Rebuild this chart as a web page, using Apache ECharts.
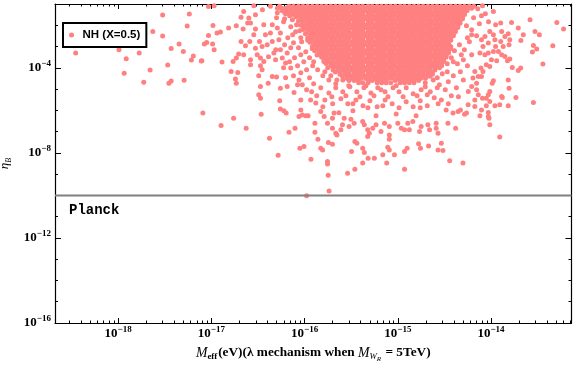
<!DOCTYPE html>
<html><head><meta charset="utf-8">
<script src="https://cdn.jsdelivr.net/npm/echarts@6/dist/echarts.min.js"></script>
<style>html,body{margin:0;padding:0;background:#fff}#c{width:576px;height:367px}</style>
</head><body><div id="c"></div>
<script>
// ---- axis ranges and ticks ----
const xMin = 2.1e-19, xMax = 7.3e-14;
const yMin = 1e-16, yMax = 1e-1;
const xMajorTicks = [1e-18, 1e-17, 1e-16, 1e-15, 1e-14];
const xTickLabels = ['\u221218', '\u221217', '\u221216', '\u221215', '\u221214'];
const xMinorTicks = [3e-19,4e-19,5e-19,6e-19,7e-19,8e-19,9e-19,
  2e-18,3e-18,4e-18,5e-18,6e-18,7e-18,8e-18,9e-18,
  2e-17,3e-17,4e-17,5e-17,6e-17,7e-17,8e-17,9e-17,
  2e-16,3e-16,4e-16,5e-16,6e-16,7e-16,8e-16,9e-16,
  2e-15,3e-15,4e-15,5e-15,6e-15,7e-15,8e-15,9e-15,
  2e-14,3e-14,4e-14,5e-14,6e-14,7e-14];
const yMajorTicks = [1e-16, 1e-12, 1e-8, 1e-4];
const yTickLabels = ['\u221216', '\u221212', '\u22128', '\u22124'];
const yMinorTicks = [1e-16,1e-15,1e-14,1e-13,1e-12,1e-11,1e-10,1e-9,1e-8,1e-7,1e-6,1e-5,1e-4,1e-3,1e-2,1e-1];
const planckEta = 1e-10;
const planckMeff = [2.1e-19, 7.3e-14];
const seriesName = 'NH (X=0.5)';

// ---- dense core of the point cloud: one eta value per row, with the M_eff values in that row ----
const coreEta = [7.9e-2, 6.3e-2, 5.0e-2, 4.0e-2, 3.2e-2, 2.5e-2, 2.0e-2, 1.58e-2, 1.26e-2, 1.0e-2,
  7.9e-3, 6.3e-3, 5.0e-3, 4.0e-3, 3.2e-3, 2.5e-3, 2.0e-3, 1.58e-3, 1.26e-3, 1.0e-3,
  7.9e-4, 6.3e-4, 5.0e-4, 4.0e-4, 3.2e-4, 2.5e-4, 2.0e-4, 1.58e-4, 1.26e-4, 1.0e-4,
  7.9e-5, 6.3e-5, 5.0e-5, 4.0e-5, 3.2e-5, 2.5e-5, 2.0e-5];
const coreMeff = [
 [4.3e-17,5.4e-17,6.8e-17,7.6e-17,8.6e-17,9.6e-17,1.08e-16,1.21e-16,1.36e-16,1.52e-16,1.7e-16,1.91e-16,2.14e-16,2.4e-16,2.7e-16,3.0e-16,3.4e-16,3.8e-16,4.2e-16,4.8e-16,5.3e-16,6.0e-16,6.7e-16,7.5e-16,8.4e-16,9.4e-16,1.06e-15,1.18e-15,1.33e-15,1.49e-15,1.67e-15,1.87e-15,2.1e-15,2.35e-15,2.63e-15,2.95e-15,3.3e-15,3.7e-15,4.15e-15,4.65e-15,5.2e-15,5.85e-15,6.55e-15],
 [5.1e-17,5.7e-17,6.4e-17,7.2e-17,8.1e-17,9.1e-17,1.02e-16,1.14e-16,1.28e-16,1.44e-16,1.61e-16,1.8e-16,2.02e-16,2.27e-16,2.55e-16,2.85e-16,3.2e-16,3.6e-16,4.0e-16,4.5e-16,5.05e-16,5.65e-16,6.35e-16,7.1e-16,8.0e-16,8.9e-16,1.0e-15,1.12e-15,1.26e-15,1.41e-15,1.58e-15,1.77e-15,1.98e-15,2.22e-15,2.5e-15,2.8e-15,3.1e-15,3.5e-15,3.95e-15,4.4e-15,4.95e-15,5.55e-15,6.2e-15],
 [5.7e-17,6.4e-17,7.2e-17,8.1e-17,9.1e-17,1.02e-16,1.14e-16,1.28e-16,1.44e-16,1.61e-16,1.8e-16,2.02e-16,2.27e-16,2.55e-16,2.85e-16,3.2e-16,3.6e-16,4.0e-16,4.5e-16,5.05e-16,5.65e-16,6.35e-16,7.1e-16,8.0e-16,8.9e-16,1.0e-15,1.12e-15,1.26e-15,1.41e-15,1.58e-15,1.77e-15,1.98e-15,2.22e-15,2.5e-15,2.8e-15,3.1e-15,3.5e-15,3.95e-15,4.4e-15,4.95e-15,5.55e-15],
 [6.1e-17,6.8e-17,7.6e-17,8.6e-17,9.6e-17,1.08e-16,1.21e-16,1.36e-16,1.52e-16,1.7e-16,1.91e-16,2.14e-16,2.4e-16,2.7e-16,3.0e-16,3.4e-16,3.8e-16,4.2e-16,4.8e-16,5.3e-16,6.0e-16,6.7e-16,7.5e-16,8.4e-16,9.4e-16,1.06e-15,1.18e-15,1.33e-15,1.49e-15,1.67e-15,1.87e-15,2.1e-15,2.35e-15,2.63e-15,2.95e-15,3.3e-15,3.7e-15,4.15e-15,4.65e-15,5.2e-15],
 [7.6e-17,8.6e-17,9.6e-17,1.08e-16,1.21e-16,1.36e-16,1.52e-16,1.7e-16,1.91e-16,2.14e-16,2.4e-16,2.7e-16,3.0e-16,3.4e-16,3.8e-16,4.2e-16,4.8e-16,5.3e-16,6.0e-16,6.7e-16,7.5e-16,8.4e-16,9.4e-16,1.06e-15,1.18e-15,1.33e-15,1.49e-15,1.67e-15,1.87e-15,2.1e-15,2.35e-15,2.63e-15,2.95e-15,3.3e-15,3.7e-15,4.15e-15,4.65e-15,5.2e-15],
 [8.1e-17,9.1e-17,1.02e-16,1.14e-16,1.28e-16,1.44e-16,1.61e-16,1.8e-16,2.02e-16,2.27e-16,2.55e-16,2.85e-16,3.2e-16,3.6e-16,4.0e-16,4.5e-16,5.05e-16,5.65e-16,6.35e-16,7.1e-16,8.0e-16,8.9e-16,1.0e-15,1.12e-15,1.26e-15,1.41e-15,1.58e-15,1.77e-15,1.98e-15,2.22e-15,2.5e-15,2.8e-15,3.1e-15,3.5e-15,3.95e-15,4.4e-15,4.95e-15],
 [9.1e-17,1.02e-16,1.14e-16,1.28e-16,1.44e-16,1.61e-16,1.8e-16,2.02e-16,2.27e-16,2.55e-16,2.85e-16,3.2e-16,3.6e-16,4.0e-16,4.5e-16,5.05e-16,5.65e-16,6.35e-16,7.1e-16,8.0e-16,8.9e-16,1.0e-15,1.12e-15,1.26e-15,1.41e-15,1.58e-15,1.77e-15,1.98e-15,2.22e-15,2.5e-15,2.8e-15,3.1e-15,3.5e-15,3.95e-15,4.4e-15,4.95e-15],
 [8.6e-17,9.6e-17,1.08e-16,1.21e-16,1.36e-16,1.52e-16,1.7e-16,1.91e-16,2.14e-16,2.4e-16,2.7e-16,3.0e-16,3.4e-16,3.8e-16,4.2e-16,4.8e-16,5.3e-16,6.0e-16,6.7e-16,7.5e-16,8.4e-16,9.4e-16,1.06e-15,1.18e-15,1.33e-15,1.49e-15,1.67e-15,1.87e-15,2.1e-15,2.35e-15,2.63e-15,2.95e-15,3.3e-15,3.7e-15,4.15e-15,4.65e-15],
 [9.6e-17,1.08e-16,1.21e-16,1.36e-16,1.52e-16,1.7e-16,1.91e-16,2.14e-16,2.4e-16,2.7e-16,3.0e-16,3.4e-16,3.8e-16,4.2e-16,4.8e-16,5.3e-16,6.0e-16,6.7e-16,7.5e-16,8.4e-16,9.4e-16,1.06e-15,1.18e-15,1.33e-15,1.49e-15,1.67e-15,1.87e-15,2.1e-15,2.35e-15,2.63e-15,2.95e-15,3.3e-15,3.7e-15,4.15e-15,4.65e-15],
 [9.1e-17,1.02e-16,1.14e-16,1.28e-16,1.44e-16,1.61e-16,1.8e-16,2.02e-16,2.27e-16,2.55e-16,2.85e-16,3.2e-16,3.6e-16,4.0e-16,4.5e-16,5.05e-16,5.65e-16,6.35e-16,7.1e-16,8.0e-16,8.9e-16,1.0e-15,1.12e-15,1.26e-15,1.41e-15,1.58e-15,1.77e-15,1.98e-15,2.22e-15,2.5e-15,2.8e-15,3.1e-15,3.5e-15,3.95e-15,4.4e-15],
 [1.02e-16,1.14e-16,1.28e-16,1.44e-16,1.61e-16,1.8e-16,2.02e-16,2.27e-16,2.55e-16,2.85e-16,3.2e-16,3.6e-16,4.0e-16,4.5e-16,5.05e-16,5.65e-16,6.35e-16,7.1e-16,8.0e-16,8.9e-16,1.0e-15,1.12e-15,1.26e-15,1.41e-15,1.58e-15,1.77e-15,1.98e-15,2.22e-15,2.5e-15,2.8e-15,3.1e-15,3.5e-15,3.95e-15,4.4e-15],
 [9.6e-17,1.08e-16,1.21e-16,1.36e-16,1.52e-16,1.7e-16,1.91e-16,2.14e-16,2.4e-16,2.7e-16,3.0e-16,3.4e-16,3.8e-16,4.2e-16,4.8e-16,5.3e-16,6.0e-16,6.7e-16,7.5e-16,8.4e-16,9.4e-16,1.06e-15,1.18e-15,1.33e-15,1.49e-15,1.67e-15,1.87e-15,2.1e-15,2.35e-15,2.63e-15,2.95e-15,3.3e-15,3.7e-15,4.15e-15],
 [1.08e-16,1.21e-16,1.36e-16,1.52e-16,1.7e-16,1.91e-16,2.14e-16,2.4e-16,2.7e-16,3.0e-16,3.4e-16,3.8e-16,4.2e-16,4.8e-16,5.3e-16,6.0e-16,6.7e-16,7.5e-16,8.4e-16,9.4e-16,1.06e-15,1.18e-15,1.33e-15,1.49e-15,1.67e-15,1.87e-15,2.1e-15,2.35e-15,2.63e-15,2.95e-15,3.3e-15,3.7e-15,4.15e-15],
 [1.02e-16,1.14e-16,1.28e-16,1.44e-16,1.61e-16,1.8e-16,2.02e-16,2.27e-16,2.55e-16,2.85e-16,3.2e-16,3.6e-16,4.0e-16,4.5e-16,5.05e-16,5.65e-16,6.35e-16,7.1e-16,8.0e-16,8.9e-16,1.0e-15,1.12e-15,1.26e-15,1.41e-15,1.58e-15,1.77e-15,1.98e-15,2.22e-15,2.5e-15,2.8e-15,3.1e-15,3.5e-15,3.95e-15],
 [1.14e-16,1.28e-16,1.44e-16,1.61e-16,1.8e-16,2.02e-16,2.27e-16,2.55e-16,2.85e-16,3.2e-16,3.6e-16,4.0e-16,4.5e-16,5.05e-16,5.65e-16,6.35e-16,7.1e-16,8.0e-16,8.9e-16,1.0e-15,1.12e-15,1.26e-15,1.41e-15,1.58e-15,1.77e-15,1.98e-15,2.22e-15,2.5e-15,2.8e-15,3.1e-15,3.5e-15,3.95e-15],
 [1.08e-16,1.21e-16,1.36e-16,1.52e-16,1.7e-16,1.91e-16,2.14e-16,2.4e-16,2.7e-16,3.0e-16,3.4e-16,3.8e-16,4.2e-16,4.8e-16,5.3e-16,6.0e-16,6.7e-16,7.5e-16,8.4e-16,9.4e-16,1.06e-15,1.18e-15,1.33e-15,1.49e-15,1.67e-15,1.87e-15,2.1e-15,2.35e-15,2.63e-15,2.95e-15,3.3e-15,3.7e-15],
 [1.08e-16,1.21e-16,1.36e-16,1.52e-16,1.7e-16,1.91e-16,2.14e-16,2.4e-16,2.7e-16,3.0e-16,3.4e-16,3.8e-16,4.2e-16,4.8e-16,5.3e-16,6.0e-16,6.7e-16,7.5e-16,8.4e-16,9.4e-16,1.06e-15,1.18e-15,1.33e-15,1.49e-15,1.67e-15,1.87e-15,2.1e-15,2.35e-15,2.63e-15,2.95e-15,3.3e-15,3.7e-15],
 [1.14e-16,1.28e-16,1.44e-16,1.61e-16,1.8e-16,2.02e-16,2.27e-16,2.55e-16,2.85e-16,3.2e-16,3.6e-16,4.0e-16,4.5e-16,5.05e-16,5.65e-16,6.35e-16,7.1e-16,8.0e-16,8.9e-16,1.0e-15,1.12e-15,1.26e-15,1.41e-15,1.58e-15,1.77e-15,1.98e-15,2.22e-15,2.5e-15,2.8e-15,3.1e-15,3.5e-15],
 [1.28e-16,1.44e-16,1.61e-16,1.8e-16,2.02e-16,2.27e-16,2.55e-16,2.85e-16,3.2e-16,3.6e-16,4.0e-16,4.5e-16,5.05e-16,5.65e-16,6.35e-16,7.1e-16,8.0e-16,8.9e-16,1.0e-15,1.12e-15,1.26e-15,1.41e-15,1.58e-15,1.77e-15,1.98e-15,2.22e-15,2.5e-15,2.8e-15,3.1e-15,3.5e-15],
 [1.21e-16,1.36e-16,1.52e-16,1.7e-16,1.91e-16,2.14e-16,2.4e-16,2.7e-16,3.0e-16,3.4e-16,3.8e-16,4.2e-16,4.8e-16,5.3e-16,6.0e-16,6.7e-16,7.5e-16,8.4e-16,9.4e-16,1.06e-15,1.18e-15,1.33e-15,1.49e-15,1.67e-15,1.87e-15,2.1e-15,2.35e-15,2.63e-15,2.95e-15,3.3e-15,3.7e-15],
 [1.21e-16,1.36e-16,1.52e-16,1.7e-16,1.91e-16,2.14e-16,2.4e-16,2.7e-16,3.0e-16,3.4e-16,3.8e-16,4.2e-16,4.8e-16,5.3e-16,6.0e-16,6.7e-16,7.5e-16,8.4e-16,9.4e-16,1.06e-15,1.18e-15,1.33e-15,1.49e-15,1.67e-15,1.87e-15,2.1e-15,2.35e-15,2.63e-15,2.95e-15,3.3e-15,3.7e-15],
 [1.28e-16,1.44e-16,1.61e-16,1.8e-16,2.02e-16,2.27e-16,2.55e-16,2.85e-16,3.2e-16,3.6e-16,4.0e-16,4.5e-16,5.05e-16,5.65e-16,6.35e-16,7.1e-16,8.0e-16,8.9e-16,1.0e-15,1.12e-15,1.26e-15,1.41e-15,1.58e-15,1.77e-15,1.98e-15,2.22e-15,2.5e-15,2.8e-15,3.1e-15,3.5e-15],
 [1.44e-16,1.61e-16,1.8e-16,2.02e-16,2.27e-16,2.55e-16,2.85e-16,3.2e-16,3.6e-16,4.0e-16,4.5e-16,5.05e-16,5.65e-16,6.35e-16,7.1e-16,8.0e-16,8.9e-16,1.0e-15,1.12e-15,1.26e-15,1.41e-15,1.58e-15,1.77e-15,1.98e-15,2.22e-15,2.5e-15,2.8e-15,3.1e-15,3.5e-15],
 [1.36e-16,1.52e-16,1.7e-16,1.91e-16,2.14e-16,2.4e-16,2.7e-16,3.0e-16,3.4e-16,3.8e-16,4.2e-16,4.8e-16,5.3e-16,6.0e-16,6.7e-16,7.5e-16,8.4e-16,9.4e-16,1.06e-15,1.18e-15,1.33e-15,1.49e-15,1.67e-15,1.87e-15,2.1e-15,2.35e-15,2.63e-15,2.95e-15,3.3e-15],
 [1.52e-16,1.7e-16,1.91e-16,2.14e-16,2.4e-16,2.7e-16,3.0e-16,3.4e-16,3.8e-16,4.2e-16,4.8e-16,5.3e-16,6.0e-16,6.7e-16,7.5e-16,8.4e-16,9.4e-16,1.06e-15,1.18e-15,1.33e-15,1.49e-15,1.67e-15,1.87e-15,2.1e-15,2.35e-15,2.63e-15,2.95e-15,3.3e-15],
 [1.61e-16,1.8e-16,2.02e-16,2.27e-16,2.55e-16,2.85e-16,3.2e-16,3.6e-16,4.0e-16,4.5e-16,5.05e-16,5.65e-16,6.35e-16,7.1e-16,8.0e-16,8.9e-16,1.0e-15,1.12e-15,1.26e-15,1.41e-15,1.58e-15,1.77e-15,1.98e-15,2.22e-15,2.5e-15,2.8e-15,3.1e-15],
 [1.61e-16,1.8e-16,2.02e-16,2.27e-16,2.55e-16,2.85e-16,3.2e-16,3.6e-16,4.0e-16,4.5e-16,5.05e-16,5.65e-16,6.35e-16,7.1e-16,8.0e-16,8.9e-16,1.0e-15,1.12e-15,1.26e-15,1.41e-15,1.58e-15,1.77e-15,1.98e-15,2.22e-15,2.5e-15,2.8e-15,3.1e-15],
 [1.7e-16,1.91e-16,2.14e-16,2.4e-16,2.7e-16,3.0e-16,3.4e-16,3.8e-16,4.2e-16,4.8e-16,5.3e-16,6.0e-16,6.7e-16,7.5e-16,8.4e-16,9.4e-16,1.06e-15,1.18e-15,1.33e-15,1.49e-15,1.67e-15,1.87e-15,2.1e-15,2.35e-15,2.63e-15,2.95e-15],
 [1.91e-16,2.14e-16,2.4e-16,2.7e-16,3.0e-16,3.4e-16,3.8e-16,4.2e-16,4.8e-16,5.3e-16,6.0e-16,6.7e-16,7.5e-16,8.4e-16,9.4e-16,1.06e-15,1.18e-15,1.33e-15,1.49e-15,1.67e-15,1.87e-15,2.1e-15,2.35e-15,2.63e-15,2.95e-15],
 [2.02e-16,2.27e-16,2.55e-16,2.85e-16,3.2e-16,3.6e-16,4.0e-16,4.5e-16,5.05e-16,5.65e-16,6.35e-16,7.1e-16,8.0e-16,8.9e-16,1.0e-15,1.12e-15,1.26e-15,1.41e-15,1.58e-15,1.77e-15,1.98e-15,2.22e-15,2.5e-15,2.8e-15],
 [2.02e-16,2.27e-16,2.55e-16,2.85e-16,3.2e-16,3.6e-16,4.0e-16,4.5e-16,5.05e-16,5.65e-16,6.35e-16,7.1e-16,8.0e-16,8.9e-16,1.0e-15,1.12e-15,1.26e-15,1.41e-15,1.58e-15,1.77e-15,1.98e-15,2.22e-15,2.5e-15],
 [2.14e-16,2.4e-16,2.7e-16,3.0e-16,3.4e-16,3.8e-16,4.2e-16,4.8e-16,5.3e-16,6.0e-16,6.7e-16,7.5e-16,8.4e-16,9.4e-16,1.06e-15,1.18e-15,1.33e-15,1.49e-15,1.67e-15,1.87e-15,2.1e-15,2.35e-15],
 [2.4e-16,2.7e-16,3.0e-16,3.4e-16,3.8e-16,4.2e-16,4.8e-16,5.3e-16,6.0e-16,6.7e-16,7.5e-16,8.4e-16,9.4e-16,1.06e-15,1.18e-15,1.33e-15,1.49e-15,1.67e-15,1.87e-15,2.1e-15,2.35e-15],
 [2.55e-16,2.85e-16,3.2e-16,3.6e-16,4.0e-16,4.5e-16,5.05e-16,5.65e-16,6.35e-16,7.1e-16,8.0e-16,8.9e-16,1.0e-15,1.12e-15,1.26e-15,1.41e-15,1.58e-15,1.77e-15,1.98e-15,2.22e-15],
 [2.85e-16,3.2e-16,3.6e-16,4.0e-16,4.5e-16,5.05e-16,5.65e-16,6.35e-16,7.1e-16,8.0e-16,8.9e-16,1.0e-15,1.12e-15,1.26e-15,1.41e-15,1.58e-15,1.77e-15,1.98e-15],
 [3.0e-16,3.4e-16,3.8e-16,4.8e-16,5.3e-16,6.0e-16,6.7e-16,7.5e-16,9.4e-16,1.06e-15,1.18e-15,1.33e-15,1.49e-15,1.67e-15],
 [3.8e-16,4.2e-16,4.8e-16,6.0e-16,6.7e-16,7.5e-16,8.4e-16,1.06e-15,1.18e-15,1.33e-15,1.49e-15]
];

// ---- scattered points around the core: [M_eff (eV), eta_B] ----
const scatterPairs = [
 [3.0e-18,3.0e-2],[5.8e-18,3.4e-2],[5.5e-18,9.2e-3],[2.35e-18,5.1e-3],[3.0e-18,3.1e-3],[4.5e-18,1.3e-3],[8.4e-18,1.3e-3],[3.7e-18,8.1e-4],
 [5.0e-18,5.8e-4],[3.5e-19,4.9e-4],[1.68e-18,4.9e-4],[6.4e-18,3.6e-4],[1.22e-18,2.7e-4],[6.1e-18,2.3e-4],[7.8e-18,2.07e-4],[3.4e-18,1.34e-4],
 [2.2e-18,7.8e-5],[1.16e-18,5.6e-5],[1.88e-18,2.1e-5],[3.7e-18,2.4e-5],[3.5e-18,1.9e-5],[5.1e-18,2.6e-5],[8.1e-18,7.4e-7],[1.02e-18,7.0e-4],
 [9.3e-18,7.7e-2],[1.07e-17,8.3e-2],[2.85e-17,8.3e-2],[2.22e-17,4.5e-2],[2.08e-17,2.4e-2],[2.52e-17,2.2e-2],[2.97e-17,3.1e-2],[2.45e-17,1.27e-2],
 [2.63e-17,1.27e-2],[1.04e-17,9.8e-3],[1.85e-17,9.5e-3],[2.19e-17,6.6e-3],[2.97e-17,6.6e-3],[3.65e-17,1.05e-2],[1.25e-17,4.8e-3],[1.15e-17,4.3e-3],
 [9.3e-18,3.3e-3],[1.53e-17,7.4e-3],[2.85e-17,3.6e-3],[4.3e-17,4.3e-3],[4.5e-17,1.05e-2],[5.1e-17,7.4e-3],[5.5e-17,4.3e-3],[8.9e-18,1.55e-3],
 [1.03e-17,1.3e-3],[2.08e-17,1.73e-3],[2.58e-17,1.73e-3],[2.32e-17,1.08e-3],[3.28e-17,1.73e-3],[3.5e-17,1.0e-3],[4.5e-17,1.73e-3],[3.97e-17,1.21e-3],
 [1.07e-17,7.0e-4],[1.96e-17,4.4e-4],[2.97e-17,8.4e-4],[3.1e-17,4.1e-4],[4.68e-17,4.9e-4],[5.5e-17,7.0e-4],[2.22e-17,4.1e-4],[7.9e-18,2.13e-4],
 [1.3e-17,1.85e-4],[1.71e-17,1.98e-4],[1.85e-17,2.86e-4],[2.63e-17,2.38e-4],[3.36e-17,2.86e-4],[3.65e-17,1.98e-4],[4.88e-17,2.38e-4],[5.76e-17,2.86e-4],
 [6.5e-17,4.9e-4],[6.25e-17,1.66e-4],[7.1e-17,9.7e-5],[3.36e-17,1.24e-4],[2.63e-17,1.38e-4],[1.63e-17,6.7e-5],[1.92e-17,6.0e-5],[3.5e-17,8.1e-5],
 [4.5e-17,3.9e-5],[5.0e-17,3.65e-5],[1.81e-17,3.0e-5],[1.85e-17,1.9e-5],[3.22e-17,4.2e-5],[4.07e-17,1.9e-5],[5.5e-17,1.1e-5],[6.5e-17,1.32e-5],
 [7.7e-17,6.9e-6],[8.7e-17,2.7e-5],[8.4e-17,1.58e-5],[9.45e-17,1.58e-5],[1.05e-16,9.2e-6],[3.36e-17,1.32e-5],[3.22e-17,5.4e-6],[3.36e-17,3.75e-6],
 [5.4e-17,2.8e-6],[9.1e-17,3.1e-6],[1.16e-16,3.1e-6],[5.5e-17,1.14e-6],[6.0e-17,9.5e-7],[9.1e-17,1.05e-6],[8.7e-17,5.1e-7],[1.03e-16,5.5e-7],
 [1.32e-16,2.2e-6],[3.42e-17,6.6e-7],[1.73e-17,4.3e-7],[5.95e-17,1.46e-2],[7.1e-17,8.5e-3],[8.0e-17,4.9e-3],[6.6e-17,2.6e-3],[7.6e-17,1.5e-3],
 [8.6e-17,8.7e-4],[7.1e-17,8.7e-4],[6.1e-17,1.21e-3],[9.1e-17,4.1e-4],[7.8e-17,2.95e-4],[6.9e-17,1.92e-4],[8.4e-17,1.24e-4],[9.8e-17,1.92e-4],
 [1.05e-16,8.1e-5],[9.1e-17,5.8e-5],[7.6e-17,4.2e-5],[6.25e-17,3.4e-5],[1.13e-16,3.4e-5],[1.25e-16,1.77e-5],[5.3e-17,2.1e-3],[4.9e-17,7.0e-4],
 [5.95e-17,1.0e-4],[4.1e-17,3.3e-4],[3.8e-17,3.6e-3],[5.0e-17,2.25e-2],[6.25e-17,3.5e-2],[7.4e-17,1.8e-2],[9.1e-17,2.6e-3],[9.8e-17,7.6e-3],
 [6.35e-17,7.4e-7],[6.8e-17,9.4e-8],[7.9e-17,1.45e-7],[9.45e-17,6.1e-7],[1.09e-16,5.5e-7],[1.27e-17,1.93e-7],[2.36e-17,1.45e-7],[4.2e-17,4.9e-8],
 [5.2e-17,7.8e-9],[8.9e-17,1.66e-8],[9.85e-17,1.98e-8],[1.17e-16,5.0e-9],[1.76e-16,3.9e-9],[1.76e-16,3.0e-9],[1.79e-16,8.8e-10],[1.83e-16,1.63e-10],
 [1.05e-16,9.5e-11],[1.29e-16,2.5e-7],[1.29e-16,9.4e-8],[1.39e-16,4.4e-8],[1.49e-16,8.8e-7],[1.49e-16,1.66e-8],[1.56e-16,1.38e-8],[1.99e-16,1.45e-7],
 [2.07e-16,7.4e-7],[2.22e-16,7.0e-8],[1.99e-16,2.56e-8],[1.8e-16,3.05e-8],[1.62e-16,5.1e-7],[1.76e-16,2.5e-7],[1.99e-16,4.3e-7],[2.66e-16,4.3e-7],
 [2.55e-16,2.08e-7],[2.45e-16,1.21e-7],[2.16e-16,8.4e-8],[3.14e-16,3.85e-7],[3.0e-16,1.73e-7],[3.4e-16,2.5e-7],[4.2e-16,2.97e-7],[4.37e-16,2.08e-7],
 [4.75e-16,1.21e-7],[4.94e-16,8.4e-8],[5.38e-16,1.45e-7],[4.75e-16,5.85e-8],[5.84e-16,2.08e-7],[6.6e-16,1.0e-7],[7.2e-16,2.5e-7],[8.1e-16,1.73e-7],
 [8.1e-16,7.0e-8],[8.1e-16,4.4e-8],[1.0e-15,2.5e-7],[1.09e-15,1.45e-7],[1.18e-15,1.21e-7],[1.33e-15,1.21e-7],[1.28e-15,2.5e-7],[1.45e-15,2.97e-7],
 [1.71e-15,1.0e-7],[1.78e-15,1.73e-7],[2.1e-15,2.08e-7],[2.19e-15,1.21e-7],[2.58e-15,1.45e-7],[2.7e-15,8.4e-8],[2.58e-15,2.5e-7],[3.45e-15,2.5e-7],
 [4.17e-15,1.45e-7],[3.46e-16,3.4e-8],[3.64e-16,2.86e-8],[3.19e-16,1.15e-8],[4.2e-16,1.66e-8],[4.37e-16,1.03e-8],[7.8e-16,1.85e-8],[8.1e-16,1.38e-8],
 [1.18e-15,1.15e-8],[1.26e-15,1.66e-8],[9.2e-16,8.1e-9],[6.9e-16,8.1e-9],[5.6e-16,5.6e-9],[4.8e-16,5.6e-9],[4.2e-16,3.3e-9],[1.67e-15,2.65e-8],
 [1.75e-15,1.66e-8],[2.14e-15,2.13e-8],[2.7e-15,1.38e-8],[3.05e-15,1.28e-8],[2.93e-15,2.86e-8],[2.89e-16,1.1e-9],[3.46e-16,1.71e-9],[7.6e-16,3.3e-9],
 [1.18e-15,1.71e-9],[3.6e-15,4.3e-9],[5.0e-15,3.3e-9],[1.24e-14,5.5e-8],[6.7e-15,3.1e-6],[7.9e-15,1.05e-6],[8.9e-15,1.63e-6],[9.35e-15,5.1e-7],
 [9.7e-15,2.08e-7],[1.3e-14,4.5e-6],[5.68e-15,1.81e-6],[5.45e-15,7.4e-7],[4.43e-15,8.8e-7],[3.91e-15,7.4e-7],[3.3e-15,1.05e-6],[1.06e-14,4.5e-2],
 [1.27e-14,1.27e-2],[1.12e-14,1.05e-2],[1.66e-14,1.35e-2],[1.96e-14,7.4e-3],[2.62e-14,1.81e-2],[5.08e-14,1.35e-2],[6.0e-14,6.6e-3],[2.22e-14,3.6e-3],
 [2.09e-14,1.93e-3],[2.96e-14,5.1e-3],[3.3e-14,3.6e-3],[2.85e-14,1.12e-3],[3.09e-14,7.6e-4],[2.78e-14,5.5e-4],[4.6e-14,1.08e-3],[1.53e-14,4.0e-3],
 [1.59e-14,2.08e-3],[1.56e-14,1.21e-3],[1.35e-14,1.0e-3],[1.27e-14,1.73e-3],[1.12e-14,1.0e-3],[1.06e-14,5.85e-4],[1.2e-14,5.85e-4],[1.3e-14,4.1e-4],
 [1.01e-14,2.38e-4],[1.15e-14,2.13e-4],[1.5e-14,2.13e-4],[1.59e-14,2.56e-4],[1.41e-14,3.4e-4],[1.69e-14,1.03e-4],[1.96e-14,7.5e-5],[2.08e-14,9.7e-5],
 [3.6e-14,1.49e-4],[9.7e-15,1.15e-4],[8.9e-15,1.38e-4],[7.8e-15,9.7e-5],[8.2e-15,6.7e-5],[1.06e-14,2.45e-5],[1.03e-14,1.9e-5],[1.53e-14,2.7e-5],
 [1.56e-14,1.1e-5],[1.85e-14,4.0e-6],[1.32e-14,4.0e-6],[2.85e-14,2.33e-6],[9.7e-15,7.7e-6],[9.35e-15,5.4e-6],[8.9e-15,3.75e-6],[9.7e-15,2.6e-6],
 [1.1e-14,1.63e-6],[1.24e-14,1.81e-6],[1.53e-14,1.63e-6],[9.35e-15,7.9e-7],[9.5e-15,4.3e-7],[7.6e-15,5.5e-7],[6.7e-15,1.51e-6],[5.2e-15,6.6e-7],
 [4.7e-15,1.05e-6],[8.1e-15,3.75e-6],[7.3e-15,5.4e-6],[7.0e-15,9.2e-6],[6.2e-15,1.32e-5],[7.0e-15,1.9e-5],[5.7e-15,7.7e-6],[7.9e-15,3.9e-5],
 [7.3e-15,3.9e-5],[6.7e-15,6.7e-5],[6.4e-15,3.3e-5],[8.6e-15,3.0e-3],[9.7e-15,5.1e-3],[7.9e-15,2.08e-3],[8.2e-15,1.0e-3],[9.35e-15,1.45e-3],
 [1.1e-14,2.08e-3],[1.3e-14,5.1e-3],[1.41e-14,3.0e-3],[1.06e-14,3.6e-3],[9.35e-15,4.9e-4],[7.6e-15,4.9e-4],[8.6e-15,4.1e-4],[4.58e-15,1.21e-3],
 [5.18e-15,7.0e-4],[5.86e-15,1.67e-3],[6.2e-15,4.1e-4],[5.05e-15,2.38e-4],[4.36e-15,1.54e-4],[5.58e-15,1.24e-4],[4.69e-15,6.5e-5],[3.94e-15,4.2e-5],
 [3.48e-15,2.2e-5],[5.05e-15,2.7e-5],[4.25e-15,1.14e-5],[3.23e-15,9.2e-6],[3.75e-15,4.8e-6],[2.93e-15,3.1e-6],[4.47e-15,4.3e-6],[2.65e-15,1.14e-5],
 [2.23e-15,7.4e-6],[1.78e-15,9.2e-6],[1.46e-15,6.0e-6],[1.23e-15,1.14e-5],[1.03e-15,7.4e-6],[8.9e-16,1.14e-5],[7.3e-16,7.4e-6],[6.1e-16,1.14e-5],
 [5.15e-16,6.6e-6],[4.33e-16,1.14e-5],[3.64e-16,7.4e-6],[3.06e-16,1.28e-5],[2.57e-16,7.4e-6],[2.16e-16,1.14e-5],[1.82e-16,6.6e-6],[1.49e-16,1.14e-5],
 [1.35e-16,4.8e-6],[1.65e-16,3.1e-6],[2.0e-16,2.02e-6],[2.45e-16,3.5e-6],[2.91e-16,2.02e-6],[3.55e-16,3.1e-6],[4.23e-16,1.63e-6],[5.02e-16,2.8e-6],
 [6.0e-16,1.46e-6],[7.3e-16,3.1e-6],[8.7e-16,2.02e-6],[1.03e-15,1.31e-6],[1.23e-15,2.51e-6],[1.46e-15,1.46e-6],[1.74e-15,2.8e-6],[2.07e-15,1.63e-6],
 [2.46e-15,3.9e-6],[3.48e-15,2.02e-6],[1.57e-15,5.5e-7],[9.6e-16,6.8e-7],[5.84e-16,5.5e-7],[3.3e-16,9.5e-7],[2.33e-16,7.6e-7],[2.16e-16,1.77e-5],
 [2.57e-16,2.7e-5],[1.97e-15,1.97e-5],[2.4e-15,2.7e-5],[2.79e-15,1.58e-5],[1.82e-16,2.7e-5],[1.57e-16,4.2e-5],[1.38e-16,8.1e-5],[1.22e-16,1.24e-4],
 [3.0e-15,5.2e-5],[3.39e-15,1.54e-4],[3.75e-15,2.95e-4],[4.05e-15,6.3e-4],[7.2e-15,6.0e-2],[8.7e-15,3.5e-2],[6.5e-15,2.25e-2],[7.5e-15,1.18e-2],
 [6.2e-15,6.1e-3],[7.0e-15,3.2e-3],[5.58e-15,2.6e-3],[8.1e-15,8.3e-2],[9.4e-15,1.46e-2],[2.77e-16,4.8e-6],[3.92e-16,4.3e-6],[5.55e-16,4.8e-6],
 [7.85e-16,4.3e-6],[1.14e-15,4.3e-6],[1.61e-15,4.8e-6],[2.07e-15,5.4e-6],[1.96e-16,4.3e-6],[3.3e-16,2.02e-6],[4.78e-16,1.31e-6],[6.9e-16,1.63e-6],
 [1.74e-15,1.31e-6],[2.71e-15,2.02e-6],[1.57e-16,1.46e-6],[1.19e-16,7.4e-6],
 [3.53e-17,5.4e-2],[5.1e-17,3.9e-2],[6.1e-17,2.02e-2],[6.9e-17,2.8e-2],[8.2e-17,1.05e-2],[8.85e-17,5.5e-3],[7.45e-17,3.6e-3],[9.3e-17,1.67e-3],
 [1.03e-16,5.66e-4],[1.13e-16,2.95e-4],[1.25e-16,1.92e-4],[1.65e-16,6.5e-5],[1.77e-16,1.0e-4],[1.91e-16,4.2e-5],[2.22e-16,2.7e-5],[2.98e-16,1.42e-5],
 [3.94e-15,1.92e-4],[3.39e-15,6.5e-5],[2.65e-15,3.4e-5],[1.97e-15,1.28e-5],[4.8e-15,4.1e-4],[6.2e-15,3.6e-3],[5.45e-15,9.5e-3],[7.9e-15,2.8e-2],
 [4.55e-16,1.42e-5],[9.6e-16,1.42e-5],[6.6e-16,9.2e-6]
];

// ---- build the point table from the arrays above ----
const points = [];
coreEta.forEach(function (eta, i) { coreMeff[i].forEach(function (m) { points.push([m, eta]); }); });
scatterPairs.forEach(function (p) { points.push([p[0], p[1]]); });
const planckLine = planckMeff.map(function (m) { return [m, planckEta]; });

// ---- styling ----
const SERIF = 'Liberation Serif';
const tickRich = {
  b: {fontFamily: SERIF, fontSize: 13, fontWeight: 'bold', color: '#000', lineHeight: 18},
  s: {fontFamily: SERIF, fontSize: 9, fontWeight: 'bold', color: '#000', verticalAlign: 'top'}
};
function expFormatter(ticks, labels) {
  return function (v) {
    for (let i = 0; i < ticks.length; i++) {
      if (Math.abs(v / ticks[i] - 1) < 1e-3) return '{b|10}{s|' + labels[i] + '}';
    }
    return '';
  };
}
const black = {color: '#000', width: 1.2};
function xAxisDef(pos, ticks, len, withLabels, withLine) {
  return {
    type: 'log', logBase: 10, min: xMin, max: xMax, position: pos, gridIndex: 0,
    axisLine: {show: withLine, onZero: false, lineStyle: black},
    axisTick: {show: true, inside: true, length: len, customValues: ticks, lineStyle: {color: '#000', width: 1}},
    minorTick: {show: false}, splitLine: {show: false},
    axisLabel: withLabels ? {show: true, customValues: ticks, formatter: expFormatter(xMajorTicks, xTickLabels), rich: tickRich, margin: 2} : {show: false},
    axisPointer: {show: false}, silent: true
  };
}
function yAxisDef(pos, ticks, len, withLabels, withLine) {
  return {
    type: 'log', logBase: 10, min: yMin, max: yMax, position: pos, gridIndex: 0,
    axisLine: {show: withLine, onZero: false, lineStyle: black},
    axisTick: {show: true, inside: true, length: len, customValues: ticks, lineStyle: {color: '#000', width: 1}},
    minorTick: {show: false}, splitLine: {show: false},
    axisLabel: withLabels ? {show: true, customValues: ticks, formatter: expFormatter(yMajorTicks, yTickLabels), rich: tickRich, margin: 4, align: 'right'} : {show: false},
    axisPointer: {show: false}, silent: true
  };
}

const xMain = xAxisDef('bottom', xMajorTicks, 5, true, true);
xMain.name = '{i|M}{sb|eff}{t|(eV)(\u03bb mechanism when }{i|M}{sw|W}{sr|R}{t| = 5TeV)}';
xMain.nameLocation = 'middle';
xMain.nameGap = 21;
xMain.nameTextStyle = {
  rich: {
    i: {fontFamily: SERIF, fontSize: 13.8, fontStyle: 'italic', color: '#000', lineHeight: 18},
    t: {fontFamily: SERIF, fontSize: 13.3, fontWeight: 'bold', color: '#000', lineHeight: 18},
    sb: {fontFamily: SERIF, fontSize: 8.8, fontWeight: 'bold', color: '#000', verticalAlign: 'bottom', padding: [0, 1, 1, 0]},
    sw: {fontFamily: SERIF, fontSize: 8.8, fontStyle: 'italic', color: '#000', verticalAlign: 'bottom', padding: [0, 0, 1, 0]},
    sr: {fontFamily: SERIF, fontSize: 7, fontStyle: 'italic', color: '#000', verticalAlign: 'bottom', padding: [0, 1, -1, 0]}
  }
};
const yMain = yAxisDef('left', yMajorTicks, 6, true, true);
yMain.name = '{i|\u03b7}{s|B}';
yMain.nameLocation = 'middle';
yMain.nameRotate = 90;
yMain.nameGap = 37;
yMain.nameTextStyle = {
  rich: {
    i: {fontFamily: SERIF, fontSize: 13, fontStyle: 'italic', color: '#000', lineHeight: 16},
    s: {fontFamily: SERIF, fontSize: 8, fontStyle: 'italic', color: '#000', verticalAlign: 'bottom'}
  }
};

const chart = echarts.init(document.getElementById('c'), null, {renderer: 'canvas'});
chart.setOption({
  animation: false,
  backgroundColor: '#fff',
  grid: {left: 55, right: 4.5, top: 4, bottom: 44, containLabel: false, outerBoundsMode: 'none'},
  title: {text: 'Planck', left: 69, top: 203, padding: 0,
    textStyle: {fontFamily: 'Liberation Mono', fontWeight: 'bold', fontSize: 14, color: '#000'}},
  legend: {
    data: [seriesName], left: 63, top: 23, padding: 6, itemWidth: 12, itemHeight: 5, icon: 'circle',
    borderColor: '#000', borderWidth: 2, backgroundColor: '#fff', borderRadius: 0,
    textStyle: {fontFamily: 'Liberation Sans', fontWeight: 'bold', fontSize: 11.5, color: '#000'},
    selectedMode: false
  },
  xAxis: [xMain, xAxisDef('bottom', xMinorTicks, 2.5, false, false), xAxisDef('top', xMajorTicks, 5, false, true), xAxisDef('top', xMinorTicks, 2.5, false, false)],
  yAxis: [yMain, yAxisDef('left', yMinorTicks, 3, false, false), yAxisDef('right', yMajorTicks, 6, false, true), yAxisDef('right', yMinorTicks, 3, false, false)],
  series: [{
    name: seriesName, type: 'scatter', xAxisIndex: 0, yAxisIndex: 0,
    data: points, symbol: 'circle', symbolSize: 5, large: false, silent: true,
    itemStyle: {color: '#ff8080', opacity: 1},
    emphasis: {disabled: true}
  }, {
    name: 'Planck', type: 'line', xAxisIndex: 0, yAxisIndex: 0,
    data: planckLine, symbol: 'none', silent: true, z: 3,
    lineStyle: {color: '#808080', width: 2, type: 'solid'},
    emphasis: {disabled: true}
  }]
});
</script>
</body></html>
